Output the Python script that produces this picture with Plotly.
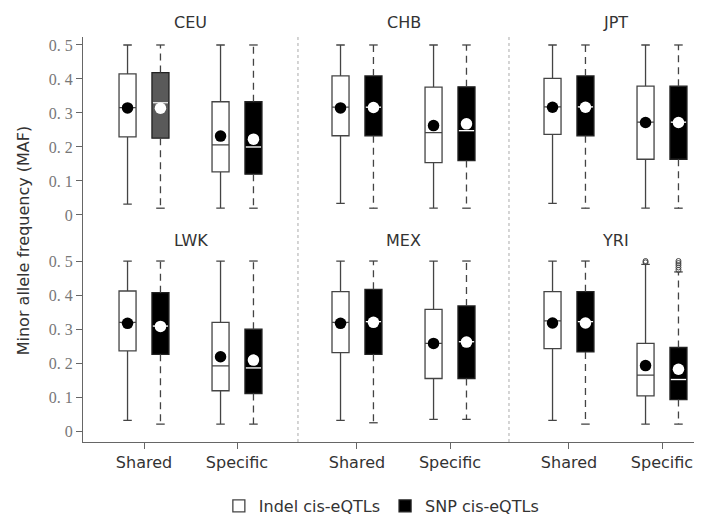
import plotly.graph_objects as go
from plotly.subplots import make_subplots

populations = ["CEU", "CHB", "JPT", "LWK", "MEX", "YRI"]
groups = ["Shared", "Specific"]
y_ticks = [0, 0.1, 0.2, 0.3, 0.4, 0.5]
y_tick_labels = ["0", "0. 1", "0. 2", "0. 3", "0. 4", "0. 5"]
legend_names = ["Indel cis-eQTLs", "SNP cis-eQTLs"]

# each row: [Shared, Specific] for one population
indel_q1 = [[0.230, 0.127], [0.233, 0.154], [0.237, 0.164], [0.236, 0.119], [0.231, 0.155], [0.243, 0.104]]
indel_median = [[0.316, 0.206], [0.317, 0.242], [0.318, 0.273], [0.320, 0.192], [0.320, 0.258], [0.324, 0.165]]
indel_q3 = [[0.415, 0.333], [0.409, 0.376], [0.402, 0.379], [0.412, 0.320], [0.410, 0.358], [0.410, 0.258]]
indel_low = [[0.032, 0.020], [0.034, 0.020], [0.034, 0.020], [0.032, 0.021], [0.032, 0.035], [0.032, 0.021]]
indel_high = [[0.5, 0.5], [0.5, 0.5], [0.5, 0.5], [0.5, 0.5], [0.5, 0.5], [0.5, 0.490]]
indel_mean = [[0.315, 0.232], [0.315, 0.263], [0.317, 0.272], [0.317, 0.219], [0.317, 0.258], [0.318, 0.193]]

snp_q1 = [[0.226, 0.120], [0.233, 0.160], [0.233, 0.164], [0.226, 0.111], [0.226, 0.155], [0.233, 0.093]]
snp_median = [[0.330, 0.200], [0.317, 0.248], [0.318, 0.273], [0.309, 0.186], [0.322, 0.263], [0.322, 0.152]]
snp_q3 = [[0.419, 0.333], [0.409, 0.377], [0.409, 0.379], [0.407, 0.300], [0.417, 0.368], [0.410, 0.246]]
snp_low = [[0.020, 0.020], [0.020, 0.020], [0.020, 0.020], [0.021, 0.021], [0.025, 0.035], [0.021, 0.021]]
snp_high = [[0.5, 0.5], [0.5, 0.5], [0.5, 0.5], [0.5, 0.5], [0.5, 0.5], [0.5, 0.468]]
snp_mean = [[0.314, 0.223], [0.316, 0.268], [0.317, 0.272], [0.308, 0.209], [0.320, 0.262], [0.318, 0.182]]

# outliers (YRI, Specific)
yri_indel_outliers = [0.496, 0.5]
yri_snp_outliers = [0.474, 0.481, 0.488, 0.494, 0.5]

OFF = 0.177
BW = 0.183
CAP = BW * 0.5
LINE = "#444"

fig = make_subplots(rows=2, cols=3, column_widths=[215, 211, 193], row_heights=[199, 206],
                    horizontal_spacing=0, vertical_spacing=0)

for p, pop in enumerate(populations):
    row, col = p // 3 + 1, p % 3 + 1
    legend_here = (p == 1)
    xi = [g - OFF for g in range(len(groups))]
    xs = [g + OFF for g in range(len(groups))]
    # Indel boxes
    fig.add_trace(go.Box(x=xi, q1=indel_q1[p], median=indel_median[p], q3=indel_q3[p],
                         lowerfence=indel_low[p], upperfence=indel_high[p],
                         width=BW, whiskerwidth=0.5, fillcolor="white",
                         line=dict(color=LINE, width=1.3), boxpoints=False,
                         name=legend_names[0], showlegend=legend_here, legendrank=1,
                         hoverinfo="skip"), row=row, col=col)
    # SNP boxes (no whiskers: drawn separately, dashed)
    for g in range(len(groups)):
        fill = "#5a5a5a" if (pop == "CEU" and g == 0) else "black"
        fig.add_trace(go.Box(x=[xs[g]], q1=[snp_q1[p][g]], median=[snp_median[p][g]], q3=[snp_q3[p][g]],
                             lowerfence=[snp_q1[p][g]], upperfence=[snp_q3[p][g]],
                             width=BW, whiskerwidth=0, fillcolor=fill,
                             line=dict(color="#222", width=1.3), boxpoints=False,
                             name=legend_names[1], showlegend=(legend_here and g == 1), legendrank=2,
                             hoverinfo="skip"), row=row, col=col)
    # SNP dashed whiskers
    wx, wy, cx, cy, mx, my = [], [], [], [], [], []
    for g in range(len(groups)):
        x = xs[g]
        wx += [x, x, None, x, x, None]
        wy += [snp_q3[p][g], snp_high[p][g], None, snp_q1[p][g], snp_low[p][g], None]
        cx += [x - CAP / 2, x + CAP / 2, None, x - CAP / 2, x + CAP / 2, None]
        cy += [snp_high[p][g], snp_high[p][g], None, snp_low[p][g], snp_low[p][g], None]
        mx += [x - BW / 2 + 0.01, x + BW / 2 - 0.01, None]
        my += [snp_median[p][g], snp_median[p][g], None]
    fig.add_trace(go.Scatter(x=wx, y=wy, mode="lines", line=dict(color=LINE, width=1.3, dash="7px,5px"),
                             showlegend=False, hoverinfo="skip"), row=row, col=col)
    fig.add_trace(go.Scatter(x=cx, y=cy, mode="lines", line=dict(color=LINE, width=1.3),
                             showlegend=False, hoverinfo="skip"), row=row, col=col)
    fig.add_trace(go.Scatter(x=mx, y=my, mode="lines", line=dict(color="white", width=1.3),
                             showlegend=False, hoverinfo="skip"), row=row, col=col)
    # means
    fig.add_trace(go.Scatter(x=xi, y=indel_mean[p], mode="markers",
                             marker=dict(color="black", size=11.5, line=dict(width=0)),
                             showlegend=False, hoverinfo="skip"), row=row, col=col)
    fig.add_trace(go.Scatter(x=xs, y=snp_mean[p], mode="markers",
                             marker=dict(color="white", size=11.5, line=dict(width=0)),
                             showlegend=False, hoverinfo="skip"), row=row, col=col)
    if pop == "YRI":
        fig.add_trace(go.Scatter(x=[xi[1]] * len(yri_indel_outliers), y=yri_indel_outliers, mode="markers",
                                 marker=dict(symbol="circle-open", color=LINE, size=5, line=dict(width=1)),
                                 showlegend=False, hoverinfo="skip"), row=row, col=col)
        fig.add_trace(go.Scatter(x=[xs[1]] * len(yri_snp_outliers), y=yri_snp_outliers, mode="markers",
                                 marker=dict(symbol="circle-open", color=LINE, size=5, line=dict(width=1)),
                                 showlegend=False, hoverinfo="skip"), row=row, col=col)
    # panel title
    fig.add_annotation(text=pop, x=0.5, xref=f"x{p + 1 if p else ''}",
                       y=(1.037 if row == 1 else 0.498), yref="paper",
                       showarrow=False, font=dict(family="DejaVu Sans", size=16, color="#333"),
                       yanchor="middle")

x_ranges = [[-0.656, 1.656], [-0.634, 1.634], [-0.645, 1.430]]
y_ranges = [[-0.0618, 0.5235], [-0.0315, 0.5735]]

for r in (1, 2):
    for c in (1, 2, 3):
        fig.update_xaxes(row=r, col=c, range=x_ranges[c - 1], tickvals=list(range(len(groups))),
                         ticktext=groups, showgrid=False, zeroline=False,
                         showticklabels=(r == 2), showline=(r == 2), linecolor="#666", linewidth=1.3,
                         ticks=("outside" if r == 2 else ""), ticklen=6, tickcolor="#666", tickwidth=1.3,
                         ticklabelstandoff=0,
                         tickfont=dict(family="DejaVu Sans", size=16, color="#333"))
        fig.update_yaxes(row=r, col=c, range=y_ranges[r - 1], tickvals=y_ticks, ticktext=y_tick_labels,
                         showgrid=False, zeroline=False,
                         showticklabels=(c == 1), showline=(c == 1), linecolor="#666", linewidth=1.3,
                         ticks=("outside" if c == 1 else ""), ticklen=6, tickcolor="#666", tickwidth=1.3,
                         tickfont=dict(family="Liberation Serif", size=16, color="#777"))

for xp in (0.3473, 0.6882):
    fig.add_shape(type="line", xref="paper", yref="paper", x0=xp, x1=xp, y0=0, y1=1,
                  line=dict(color="#aaa", width=1, dash="dot"))

fig.add_annotation(text="Minor allele frequency (MAF)", xref="paper", yref="paper",
                   x=-0.097, y=0.498, textangle=-90, showarrow=False,
                   font=dict(family="DejaVu Sans", size=16, color="#333"), xanchor="center", yanchor="middle")

fig.update_layout(width=694, height=511, margin=dict(l=75, r=0, t=29, b=77, autoexpand=False),
                  plot_bgcolor="white", paper_bgcolor="white",
                  legend=dict(orientation="h", x=0.482, xanchor="center", y=-0.158, yanchor="middle",
                              font=dict(family="DejaVu Sans", size=16, color="#333"),
                              traceorder="normal"))

fig.write_html("out.html")
